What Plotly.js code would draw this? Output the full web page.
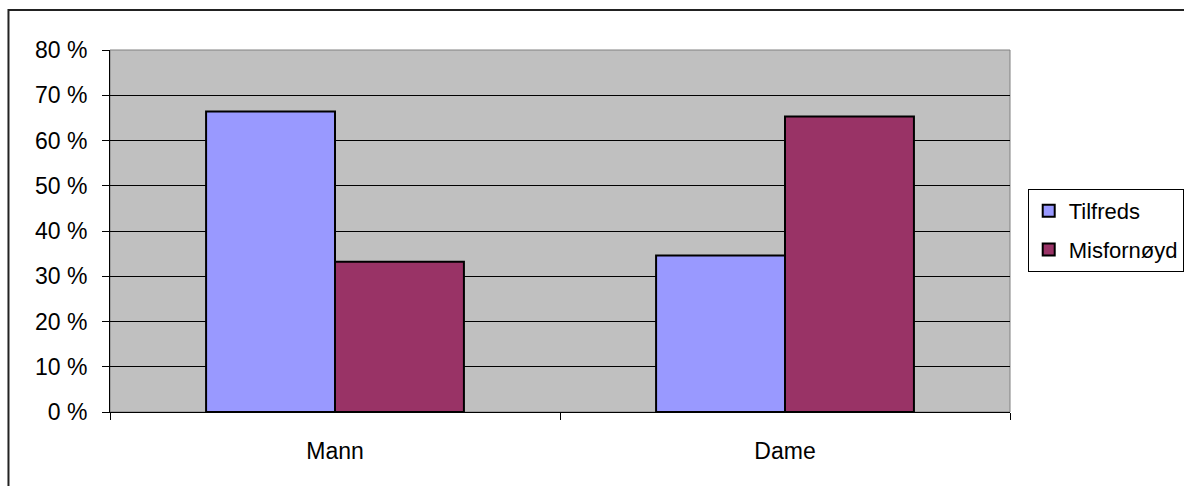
<!DOCTYPE html>
<html>
<head>
<meta charset="utf-8">
<script src="https://cdn.plot.ly/plotly-3.0.1.min.js"></script>
<style>html,body{margin:0;padding:0;background:#fff;}#chart{width:1184px;height:486px;}</style>
</head>
<body>
<div id="chart"></div>
<script>
var categories = ["Mann", "Dame"];
var seriesNames = ["Tilfreds", "Misfornøyd"];
var tilfreds = [66.4, 34.6];
var misfornoyd = [33.2, 65.3];
var yTickVals = [0, 10, 20, 30, 40, 50, 60, 70, 80];
var yTickText = ["0 %", "10 %", "20 %", "30 %", "40 %", "50 %", "60 %", "70 %", "80 %"];

var traces = [
  {type: "bar", name: seriesNames[0], x: categories, y: tilfreds, legendgroup: "a",
   marker: {color: "#9999FF", line: {color: "#000000", width: 2}}, hoverinfo: "none"},
  {type: "bar", name: seriesNames[1], x: categories, y: misfornoyd, legendgroup: "b",
   marker: {color: "#993366", line: {color: "#000000", width: 2}}, hoverinfo: "none"}
];

var layout = {
  width: 1184, height: 486,
  margin: {l: 110, r: 174, t: 50, b: 74},
  paper_bgcolor: "#ffffff",
  plot_bgcolor: "#C0C0C0",
  font: {family: "Liberation Sans, Arial, sans-serif", size: 23, color: "#000000"},
  barmode: "group",
  bargap: 0.427,
  bargroupgap: 0,
  showlegend: true,
  legend: {
    xref: "container", yref: "container",
    x: 0.868, y: 0.611, xanchor: "left", yanchor: "top",
    bordercolor: "#000000", borderwidth: 1, bgcolor: "#ffffff",
    font: {size: 22}, traceorder: "grouped", tracegroupgap: 7
  },
  xaxis: {
    type: "category",
    tickson: "boundaries",
    ticks: "outside", ticklen: 7, tickcolor: "#000000", tickwidth: 1,
    showgrid: false, zeroline: false,
    showline: true, linecolor: "#000000", linewidth: 1,
    ticklabelstandoff: 18,
    fixedrange: true
  },
  yaxis: {
    range: [0, 80],
    tickmode: "array", tickvals: yTickVals, ticktext: yTickText,
    ticks: "outside", ticklen: 7, tickcolor: "#000000", tickwidth: 1,
    showgrid: true, gridcolor: "#000000", gridwidth: 1,
    zeroline: false,
    showline: true, linecolor: "#000000", linewidth: 1,
    ticklabelstandoff: 10,
    fixedrange: true
  },
  shapes: [
    {type: "rect", xref: "paper", yref: "paper", x0: 0, x1: 1, y0: 0, y1: 1,
     line: {color: "#808080", width: 1}, layer: "below"},
    {type: "rect", xref: "paper", yref: "paper",
     x0: -0.1128, x1: 1.25, y0: -0.3, y1: 1.1105,
     line: {color: "#222222", width: 2}, fillcolor: "rgba(0,0,0,0)", layer: "above"}
  ]
};

Plotly.newPlot("chart", traces, layout, {displayModeBar: false, staticPlot: true});
</script>
</body>
</html>
